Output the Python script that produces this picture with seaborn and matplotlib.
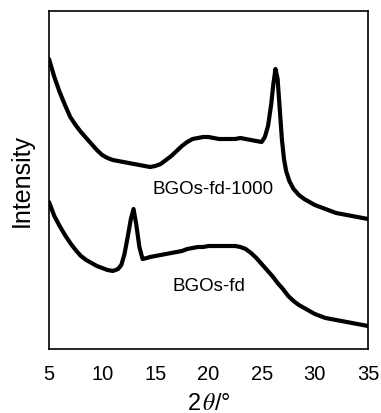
import matplotlib
matplotlib.use("Agg")
import matplotlib.pyplot as plt
import seaborn as sns
import pandas as pd

# 2theta (deg) and intensity (arbitrary units)
two_theta_1000 = [5.0, 5.5, 6.0, 6.5, 7.0, 7.5, 8.0, 8.5, 9.0, 9.5, 10.0, 10.5, 11.0, 11.5,
                  12.0, 12.5, 13.0, 13.5, 14.0, 14.5, 15.0, 15.5, 16.0, 16.5, 17.0, 17.5,
                  18.0, 18.5, 19.0, 19.5, 20.0, 20.5, 21.0, 21.5, 22.0, 22.5, 23.0, 23.5,
                  24.0, 24.5, 25.0, 25.3, 25.6, 25.9, 26.1, 26.3, 26.5, 26.7, 26.9, 27.1,
                  27.3, 27.6, 28.0, 28.5, 29.0, 29.5, 30.0, 30.5, 31.0, 31.5, 32.0, 32.5,
                  33.0, 33.5, 34.0, 34.5, 35.0]
pix_1000 = [60, 78, 93, 106, 118, 126, 133, 139, 145, 151, 156, 159, 161, 162,
            163, 164, 165, 166, 167, 168, 167, 165, 161, 157, 152, 147,
            143, 140, 139, 138, 138, 139, 140, 140, 140, 140, 139, 140,
            141, 142, 143, 138, 127, 105, 85, 70, 80, 110, 140, 160,
            172, 182, 190, 196, 200, 203, 206, 208, 210, 212, 214, 215,
            216, 217, 218, 219, 220]

two_theta_fd = [5.0, 5.5, 6.0, 6.5, 7.0, 7.5, 8.0, 8.5, 9.0, 9.5, 10.0, 10.5, 11.0, 11.5,
                11.8, 12.1, 12.4, 12.7, 12.95, 13.2, 13.5, 13.8, 14.2, 14.5, 15.0, 15.5,
                16.0, 16.5, 17.0, 17.5, 18.0, 18.5, 19.0, 19.5, 20.0, 20.5, 21.0, 21.5,
                22.0, 22.5, 23.0, 23.5, 24.0, 24.5, 25.0, 25.5, 26.0, 26.5, 27.0, 27.5,
                28.0, 28.5, 29.0, 29.5, 30.0, 30.5, 31.0, 31.5, 32.0, 32.5, 33.0, 33.5,
                34.0, 34.5, 35.0]
pix_fd = [203, 217, 227, 236, 244, 251, 257, 261, 264, 267, 269, 271, 272, 270,
          266, 255, 238, 220, 210, 225, 248, 260, 259, 258, 257, 256,
          255, 254, 253, 252, 250, 249, 248, 248, 247, 247, 247, 247,
          247, 247, 248, 250, 254, 259, 265, 271, 277, 284, 290, 297,
          302, 306, 309, 312, 315, 317, 319, 320, 321, 322, 323, 324,
          325, 326, 327]

int_1000 = [350 - v for v in pix_1000]
int_fd = [350 - v for v in pix_fd]

x_ticks = [5, 10, 15, 20, 25, 30, 35]
labels = ["BGOs-fd-1000", "BGOs-fd"]

sns.set_style("white")
plt.rcParams['font.family'] = ['Liberation Sans', 'DejaVu Sans']
plt.rcParams['mathtext.fontset'] = 'stix'
plt.rcParams['text.color'] = 'black'
plt.rcParams['axes.labelcolor'] = 'black'
plt.rcParams['xtick.labelcolor'] = 'black'

df = pd.concat([
    pd.DataFrame({"x": two_theta_1000, "y": int_1000, "s": labels[0]}),
    pd.DataFrame({"x": two_theta_fd, "y": int_fd, "s": labels[1]}),
])

fig = plt.figure(figsize=(3.81, 4.14), dpi=100)
ax = fig.add_axes([49 / 381, 1 - 350 / 414, 319 / 381, 338 / 414])
sns.lineplot(data=df, x="x", y="y", units="s", estimator=None, color="black",
             linewidth=3.0, ax=ax, legend=False, sort=False)

ax.set_xlim(5, 35)
ax.set_ylim(0, 338)
ax.set_yticks([])
ax.set_xticks(x_ticks)
ax.set_xticklabels([str(t) for t in x_ticks], fontsize=14.5)
ax.tick_params(axis="x", direction="in", length=4, width=0.8, color="#aaaaaa",
               pad=11, labelcolor="black")
for sp in ax.spines.values():
    sp.set_visible(True)
    sp.set_color("black")
    sp.set_linewidth(1.2)

ax.set_xlabel(r"2$\,\theta$/°", fontsize=17, labelpad=6, color="black")
ax.set_ylabel("Intensity", fontsize=18, labelpad=11, color="black")

ax.text(20.4, 350 - 190, labels[0], fontsize=13.5, ha="center", va="center", color="black")
ax.text(20.0, 350 - 287, labels[1], fontsize=13.5, ha="center", va="center", color="black")

fig.savefig("out.png", dpi=100)
